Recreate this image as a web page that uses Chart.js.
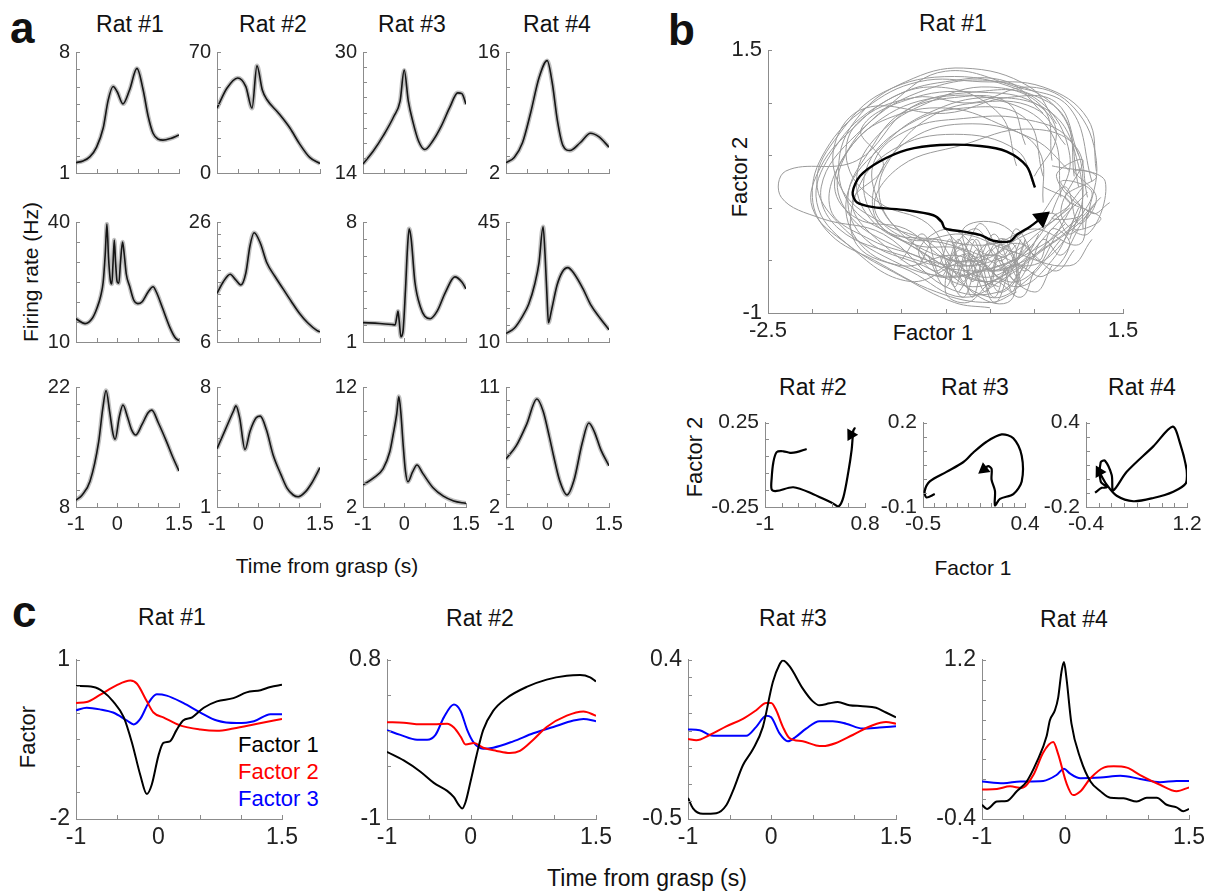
<!DOCTYPE html>
<html>
<head>
<meta charset="utf-8">
<script src="https://cdn.jsdelivr.net/npm/chart.js@4.4.1/dist/chart.umd.min.js"></script>
<style>
body { margin: 0; background: #fff; }
#fig { position: relative; width: 1222px; height: 892px; overflow: hidden; font-family: "Liberation Sans", Arial, sans-serif; color: #111; }
#fig canvas { position: absolute; }
.t { position: absolute; white-space: nowrap; line-height: 1; transform: translate(-50%, -50%); }
.v { position: absolute; white-space: nowrap; line-height: 1; transform: translate(-50%, -50%) rotate(-90deg); }
.l { position: absolute; white-space: nowrap; line-height: 1; transform: translateY(-50%); font-size: 22px; }
.p { position: absolute; font-weight: bold; font-size: 44px; line-height: 1; }
</style>
</head>
<body>
<div id="fig">
  <div class="p" style="left:10px;top:6px">a</div>
  <div class="p" style="left:668px;top:8px">b</div>
  <div class="p" style="left:12px;top:590px">c</div>

  <div class="t" style="left:130px;top:24px;font-size:23px">Rat #1</div>
  <div class="t" style="left:273px;top:24px;font-size:23px">Rat #2</div>
  <div class="t" style="left:412px;top:24px;font-size:23px">Rat #3</div>
  <div class="t" style="left:557px;top:24px;font-size:23px">Rat #4</div>
  <div class="v" style="left:30px;top:272px;font-size:21px">Firing rate (Hz)</div>
  <div class="t" style="left:327px;top:565px;font-size:21px">Time from grasp (s)</div>

  <div class="t" style="left:953px;top:23px;font-size:23px">Rat #1</div>
  <div class="v" style="left:740px;top:177px;font-size:22px">Factor 2</div>
  <div class="t" style="left:933px;top:333px;font-size:22px">Factor 1</div>
  <div class="t" style="left:813px;top:387px;font-size:23px">Rat #2</div>
  <div class="t" style="left:975px;top:387px;font-size:23px">Rat #3</div>
  <div class="t" style="left:1142px;top:387px;font-size:23px">Rat #4</div>
  <div class="v" style="left:695px;top:457px;font-size:22px">Factor 2</div>
  <div class="t" style="left:973px;top:567px;font-size:21px">Factor 1</div>

  <div class="t" style="left:172px;top:617px;font-size:23px">Rat #1</div>
  <div class="t" style="left:480px;top:618px;font-size:23px">Rat #2</div>
  <div class="t" style="left:793px;top:618px;font-size:23px">Rat #3</div>
  <div class="t" style="left:1074px;top:619px;font-size:23px">Rat #4</div>
  <div class="v" style="left:28px;top:737px;font-size:22px">Factor</div>
  <div class="t" style="left:647px;top:878px;font-size:23px">Time from grasp (s)</div>
  <div class="l" style="left:238px;top:745px;color:#000">Factor 1</div>
  <div class="l" style="left:238px;top:772px;color:#ff0000">Factor 2</div>
  <div class="l" style="left:238px;top:799px;color:#0000ff">Factor 3</div>
</div>

<script>
const FONT = '"Liberation Sans", Arial, sans-serif'

// ---------- panel a: firing rate (Hz) vs time from grasp (s), [t, rate]
const rateR1Rat1 = [[-1,1.6],[-0.83,1.7],[-0.66,1.95],[-0.5,2.5],[-0.34,3.6],[-0.22,5.2],[-0.1,6.0],[0,5.7],[0.14,5.0],[0.3,5.8],[0.48,7.05],[0.63,5.8],[0.75,4.3],[0.87,3.3],[1.0,2.95],[1.11,2.9],[1.3,3.0],[1.5,3.2]]
const rateR1Rat2 = [[-1,37.5],[-0.76,49],[-0.5,55],[-0.3,50],[-0.15,37.5],[-0.03,62],[0.1,48],[0.21,42.5],[0.48,35],[0.77,26],[1.0,17],[1.25,9],[1.5,5.5]]
const rateR1Rat3 = [[-1,15.2],[-0.75,16.9],[-0.5,19],[-0.25,21.5],[-0.1,23.5],[0,27.6],[0.1,23.5],[0.21,20.8],[0.35,18.2],[0.5,17.1],[0.7,18.3],[0.9,20.2],[1.1,22.6],[1.3,24.6],[1.4,24.5],[1.5,23.1]]
const rateR1Rat4 = [[-1,3.2],[-0.8,3.8],[-0.6,5.5],[-0.4,9],[-0.2,13],[0,15],[0.12,12.5],[0.25,8],[0.38,5.2],[0.55,4.6],[0.8,5.5],[1.05,6.6],[1.25,6.2],[1.5,5.0]]

const rateR2Rat1 = [[-1,15.8],[-0.78,14.6],[-0.6,16],[-0.49,18.5],[-0.4,21.5],[-0.34,25],[-0.29,32],[-0.25,39.5],[-0.21,31],[-0.16,25],[-0.13,24.5],[-0.1,30],[-0.07,35.5],[-0.04,30],[0,25],[0.04,24.7],[0.08,30],[0.13,35],[0.17,32],[0.22,27],[0.3,24],[0.4,20.5],[0.5,19.6],[0.6,20],[0.75,22.5],[0.87,23.8],[0.95,22.5],[1.1,18.5],[1.28,13.6],[1.4,11.2],[1.5,10.3]]
const rateR2Rat2 = [[-1,14.1],[-0.85,16],[-0.68,17.3],[-0.55,16.4],[-0.42,15.5],[-0.3,17.5],[-0.2,22],[-0.1,24.2],[0.05,22.5],[0.21,19.2],[0.4,17],[0.6,14.9],[0.8,12.8],[1.0,10.8],[1.2,9.2],[1.43,7.9],[1.5,7.7]]
const rateR2Rat3 = [[-1,2.13],[-0.6,2.08],[-0.3,2.02],[-0.22,2.0],[-0.17,2.6],[-0.15,2.8],[-0.12,2.2],[-0.08,1.3],[-0.03,1.6],[0.03,4],[0.08,6.5],[0.12,7.6],[0.17,7],[0.26,4.5],[0.4,3.0],[0.5,2.5],[0.63,2.36],[0.8,2.8],[1.0,3.9],[1.23,4.8],[1.4,4.5],[1.5,4.1]]
const rateR2Rat4 = [[-1,12.5],[-0.8,14],[-0.6,17.5],[-0.45,21],[-0.3,27],[-0.2,33],[-0.1,43.6],[-0.05,35],[0,22],[0.03,15.6],[0.1,19],[0.24,26.6],[0.37,30.5],[0.5,31.7],[0.65,30],[0.87,25.5],[1.05,21],[1.28,17],[1.5,13.6]]

const rateR3Rat1 = [[-1,8.8],[-0.85,9.4],[-0.66,11],[-0.45,15.6],[-0.35,19.5],[-0.27,21.6],[-0.18,19],[-0.1,16.5],[-0.05,15.9],[0.05,18.5],[0.14,19.9],[0.25,18.5],[0.35,17],[0.45,16.4],[0.6,17.6],[0.75,19],[0.84,19.3],[1.0,17.8],[1.2,15.6],[1.35,13.8],[1.5,12.2]]
const rateR3Rat2 = [[-1,4.4],[-0.8,5.5],[-0.6,6.6],[-0.54,6.9],[-0.45,6.2],[-0.32,4.35],[-0.2,5.4],[-0.05,6.2],[0.05,6.3],[0.2,5.5],[0.36,4.05],[0.55,2.9],[0.7,2.1],[0.85,1.7],[0.97,1.6],[1.15,1.9],[1.3,2.4],[1.5,3.3]]
const rateR3Rat3 = [[-1,3.85],[-0.75,4.4],[-0.51,5.2],[-0.35,6.6],[-0.27,8],[-0.18,9.8],[-0.13,11.2],[-0.08,9.8],[-0.03,7.4],[0.03,5],[0.09,4.1],[0.2,4.9],[0.31,5.5],[0.45,4.8],[0.7,3.6],[0.95,2.9],[1.2,2.5],[1.5,2.3]]
const rateR3Rat4 = [[-1,5.6],[-0.75,6.6],[-0.5,8.2],[-0.25,10.1],[-0.1,9.2],[0.05,7.3],[0.15,5.9],[0.3,4.0],[0.48,2.9],[0.65,4.0],[0.85,6.8],[1.01,8.3],[1.15,7.6],[1.3,6.3],[1.5,5.1]]

const rateCurves = [
    [rateR1Rat1, rateR1Rat2, rateR1Rat3, rateR1Rat4],
    [rateR2Rat1, rateR2Rat2, rateR2Rat3, rateR2Rat4],
    [rateR3Rat1, rateR3Rat2, rateR3Rat3, rateR3Rat4]
]
// y axis [min, max, tick step]
const rateYAxes = [
    [[1, 8, 1], [0, 70, 10], [14, 30, 2], [2, 16, 2]],
    [[10, 40, 5], [6, 26, 2], [1, 8, 1], [10, 45, 5]],
    [[8, 22, 2], [1, 8, 1], [2, 12, 2], [2, 11, 1]]
]
const timeTickLabels = [-1, 0, 1.5]

// ---------- panel b: factor trajectories, [factor 1, factor 2]
const trajRat1 = [[0.508,0.194],[0.415,0.396],[0.19,0.536],[-0.11,0.589],[-0.562,0.598],[-0.937,0.552],[-1.238,0.443],[-1.463,0.303],[-1.546,0.147],[-1.5,0.054],[-1.313,0.007],[-0.937,-0.023],[-0.637,-0.07],[-0.543,-0.132],[-0.506,-0.195],[-0.3,-0.226],[-0.111,-0.257],[0.039,-0.313],[0.227,-0.319],[0.302,-0.257],[0.452,-0.179],[0.584,-0.095]]
// single-trial traces (grey)
const trialLoop1 = [[0.8,0.1],[0.7,0.7],[0.2,1.0],[-0.6,1.05],[-1.3,0.8],[-1.7,0.35],[-1.6,-0.05],[-1.1,-0.35],[-0.4,-0.55],[0.2,-0.45],[0.6,-0.2],[0.9,0.0]]
const trialLoop2 = [[1.0,0.2],[0.8,0.9],[0.1,1.2],[-0.8,1.1],[-1.5,0.7],[-1.9,0.2],[-1.7,-0.2],[-1.0,-0.45],[-0.2,-0.6],[0.4,-0.5],[0.85,-0.15]]
const trialLoop3 = [[0.6,0.3],[0.4,0.85],[-0.3,0.95],[-1.0,0.75],[-1.4,0.35],[-1.3,-0.1],[-0.8,-0.4],[-0.1,-0.7],[0.3,-0.55],[0.7,-0.2],[1.1,0.15]]
const trialLoop4 = [[1.15,0.25],[0.9,0.95],[0.3,1.15],[-0.5,1.3],[-1.1,1.0],[-1.6,0.55],[-1.8,0.0],[-1.35,-0.3],[-0.7,-0.5],[0.0,-0.85],[0.4,-0.7],[0.8,-0.3]]
const trialLoop5 = [[0.9,0.35],[0.5,0.65],[-0.2,0.8],[-0.9,0.65],[-1.3,0.2],[-1.2,-0.2],[-0.6,-0.3],[0.0,-0.35],[0.5,-0.2],[1.0,-0.35],[1.1,-0.05]]
const trialLoop6 = [[0.7,-0.05],[0.9,0.5],[0.5,1.05],[-0.2,1.1],[-0.9,0.95],[-1.5,0.45],[-2.3,0.35],[-2.35,0.1],[-1.9,-0.1],[-1.2,-0.25],[-0.5,-0.75],[0.1,-0.8],[0.4,-0.55]]
const trialLoop7 = [[0.5,0.2],[0.3,0.55],[-0.4,0.7],[-1.1,0.55],[-1.5,0.15],[-1.5,-0.35],[-0.9,-0.6],[-0.3,-0.85],[0.2,-0.65],[0.6,-0.4],[1.0,-0.15],[1.2,0.05]]
const trialLoop8 = [[1.05,-0.2],[1.0,0.4],[0.7,0.9],[0.0,1.05],[-0.7,0.9],[-1.2,0.6],[-1.6,0.15],[-1.5,-0.3],[-1.0,-0.55],[-0.4,-0.45],[0.1,-0.6],[0.5,-0.35]]
const trialLoop9 = [[0.3,0.4],[0.1,0.9],[-0.6,1.15],[-1.3,0.95],[-1.8,0.5],[-1.95,0.05],[-1.6,-0.35],[-0.9,-0.7],[-0.2,-0.5],[0.3,-0.75],[0.7,-0.5],[0.95,-0.1]]
const trialLoop10 = [[1.1,0.1],[0.95,0.6],[0.4,0.75],[-0.3,0.6],[-1.0,0.4],[-1.3,0.0],[-0.9,-0.3],[-0.3,-0.25],[0.2,-0.4],[0.9,-0.55],[1.15,-0.3]]
const trialLoop11 = [[0.95,0.3],[0.85,0.85],[0.4,1.1],[-0.4,1.25],[-1.2,1.1],[-1.7,0.7],[-1.95,0.25],[-1.7,-0.15],[-1.1,-0.5],[-0.5,-0.65],[0.1,-0.55],[0.6,-0.35],[1.0,-0.1]]
const trialLoop12 = [[0.7,0.45],[0.6,0.95],[0.0,1.15],[-0.7,1.0],[-1.25,0.7],[-1.5,0.3],[-1.35,-0.1],[-0.85,-0.35],[-0.3,-0.4],[0.2,-0.7],[0.5,-0.6],[0.75,-0.25],[0.95,0.05]]
const trialLoop13 = [[1.2,0.35],[1.1,0.85],[0.6,1.15],[-0.1,1.2],[-0.8,1.2],[-1.4,0.95],[-1.85,0.55],[-2.0,0.1],[-1.8,-0.25],[-1.3,-0.5],[-0.6,-0.8],[0.0,-0.9],[0.3,-0.8]]
const trialLoop14 = [[0.4,0.6],[0.2,1.0],[-0.4,1.05],[-1.0,0.9],[-1.35,0.55],[-1.6,0.1],[-1.4,-0.3],[-0.75,-0.55],[-0.2,-0.75],[0.25,-0.6],[0.5,-0.45],[0.9,-0.2],[1.25,0.1]]
const trialLoop15 = [[0.85,0.6],[0.5,0.95],[-0.15,1.0],[-0.7,0.85],[-1.1,0.5],[-1.25,0.15],[-1.05,-0.2],[-0.6,-0.45],[-0.1,-0.5],[0.3,-0.3],[0.75,-0.1],[1.05,0.2]]
const trialLoop16 = [[1.0,0.5],[0.75,1.0],[0.2,1.05],[-0.5,0.9],[-1.4,0.95],[-1.75,0.6],[-1.65,0.15],[-1.2,-0.15],[-0.65,-0.35],[-0.2,-0.8],[0.2,-0.9],[0.35,-0.6],[0.55,-0.25]]
const trialLoop17 = [[0.6,0.05],[0.55,0.55],[0.1,0.8],[-0.5,0.95],[-1.15,0.85],[-1.55,0.6],[-1.75,0.2],[-1.5,-0.1],[-0.95,-0.2],[-0.45,-0.5],[0.05,-0.45],[0.45,-0.55],[0.8,-0.35],[1.0,0.0]]
const trialLoop18 = [[1.1,-0.1],[1.2,0.45],[0.95,0.95],[0.45,1.15],[-0.2,1.0],[-0.85,1.05],[-1.5,0.8],[-1.6,0.4],[-1.25,0.05],[-0.7,-0.15],[-0.35,-0.55],[0.05,-0.65],[0.45,-0.35]]
const trialLoop19 = [[0.5,0.3],[0.75,0.7],[0.5,1.0],[-0.1,1.1],[-0.85,1.05],[-1.45,0.75],[-1.2,0.4],[-1.55,0.05],[-1.2,-0.35],[-0.6,-0.65],[-0.1,-0.6],[0.35,-0.45],[0.75,-0.05]]
const trialLoop20 = [[0.9,-0.3],[1.05,0.15],[0.9,0.65],[0.35,0.85],[-0.3,0.85],[-0.9,0.75],[-1.3,0.45],[-1.25,0.05],[-0.95,-0.25],[-0.45,-0.35],[0.0,-0.5],[0.5,-0.8],[0.7,-0.55]]
const trialLoop21 = [[0.75,0.8],[0.45,1.15],[-0.3,1.33],[-0.95,1.2],[-1.45,0.9],[-1.7,0.45],[-1.55,0.0],[-1.0,-0.3],[-0.4,-0.6],[0.1,-0.75]]
const trialLoop22 = [[0.6,0.9],[0.2,1.2],[-0.5,1.2],[-1.1,1.05],[-1.55,0.75],[-1.9,0.4],[-2.0,0.0],[-1.6,-0.35],[-1.0,-0.65],[-0.4,-0.9],[0.0,-0.95]]
const trialJitter1 = [[-0.9,-0.3],[-0.6,-0.55],[-0.45,-0.3],[-0.3,-0.7],[-0.15,-0.4],[0.0,-0.75],[0.1,-0.45],[0.25,-0.8],[0.3,-0.5],[0.0,-0.6],[-0.2,-0.3],[-0.4,-0.65],[-0.55,-0.45],[-0.2,-0.55],[0.15,-0.35],[0.4,-0.6],[0.6,-0.3],[0.8,-0.45],[1.0,-0.2]]
const trialJitter2 = [[-0.7,-0.45],[-0.5,-0.75],[-0.35,-0.5],[-0.2,-0.85],[-0.05,-0.55],[0.15,-0.7],[0.3,-0.4],[0.1,-0.3],[-0.15,-0.65],[-0.3,-0.35],[-0.6,-0.6],[-0.8,-0.4],[-0.45,-0.2],[0.0,-0.45],[0.35,-0.25],[0.7,-0.05],[0.9,-0.25],[1.15,0.0]]
const trialJitter3 = [[0.6,0.2],[0.9,0.05],[0.7,-0.1],[1.05,-0.05],[0.8,0.25],[1.15,0.15],[0.95,-0.2],[1.25,-0.1],[0.85,0.1],[1.2,0.3],[0.7,0.4]]
const trialJitter4 = [[-0.8,-0.55],[-0.6,-0.3],[-0.4,-0.75],[-0.25,-0.45],[-0.05,-0.8],[0.1,-0.5],[0.3,-0.7],[0.45,-0.4],[0.2,-0.35],[-0.1,-0.6],[-0.35,-0.4],[-0.5,-0.8],[-0.25,-0.9],[0.05,-0.7],[0.35,-0.85],[0.5,-0.6]]
const trialJitter5 = [[-1.0,-0.5],[-0.75,-0.25],[-0.55,-0.65],[-0.35,-0.3],[-0.2,-0.7],[0.0,-0.4],[0.2,-0.6],[0.4,-0.3],[0.25,-0.55],[0.05,-0.25],[-0.15,-0.5],[-0.3,-0.2],[0.1,-0.15],[0.5,-0.45],[0.75,-0.6],[0.95,-0.4]]
const trialJitter6 = [[0.55,-0.1],[0.85,0.2],[1.0,-0.15],[1.2,0.1],[0.95,0.35],[1.3,0.25],[1.1,-0.25],[0.8,-0.05],[1.05,0.45],[0.75,0.3],[1.15,-0.05],[1.35,0.05]]
const trialJitter7 = [[-0.6,-0.1],[-0.3,-0.35],[-0.1,-0.15],[0.15,-0.45],[0.3,-0.2],[0.55,-0.5],[0.7,-0.2],[0.9,-0.35],[0.6,-0.65],[0.3,-0.55],[0.0,-0.7],[-0.3,-0.6]]
const trialJitter8 = [[-0.45,-0.25],[-0.3,-0.55],[-0.15,-0.3],[0.0,-0.6],[0.15,-0.3],[0.3,-0.65],[0.1,-0.8],[-0.1,-0.5],[-0.3,-0.85],[-0.45,-0.55],[-0.2,-0.45],[0.05,-0.9],[0.25,-0.5],[0.35,-0.3]]
const trialJitter9 = [[-0.35,-0.8],[-0.15,-0.6],[0.05,-0.85],[0.2,-0.55],[0.35,-0.75],[0.2,-0.4],[-0.05,-0.35],[-0.25,-0.6],[-0.4,-0.4],[-0.15,-0.2],[0.1,-0.5],[0.3,-0.35]]
const trialTraces = [trialLoop1, trialLoop2, trialLoop3, trialLoop4, trialLoop5, trialLoop6, trialLoop7, trialLoop8, trialLoop9, trialLoop10,
    trialLoop11, trialLoop12, trialLoop13, trialLoop14, trialLoop15, trialLoop16, trialLoop17, trialLoop18, trialLoop19, trialLoop20,
    trialLoop21, trialLoop22,
    trialJitter1, trialJitter2, trialJitter3, trialJitter4, trialJitter5, trialJitter6, trialJitter7, trialJitter8, trialJitter9]

const trajRat2 = [[-0.25,0.094],[-0.43,0.075],[-0.55,0.071],[-0.67,0.08],[-0.79,0.075],[-0.85,0.014],[-0.88,-0.08],[-0.88,-0.146],[-0.79,-0.155],[-0.49,-0.133],[-0.13,-0.174],[0.23,-0.23],[0.325,-0.246],[0.41,-0.193],[0.5,-0.042],[0.56,0.09],[0.59,0.203],[0.614,0.216],[0.548,0.178]]
const trajRat3 = [[-0.396,-0.054],[-0.47,-0.066],[-0.485,-0.043],[-0.44,-0.009],[-0.293,0.025],[-0.146,0.059],[-0.058,0.093],[0.061,0.132],[0.194,0.158],[0.297,0.144],[0.371,0.082],[0.371,-0.009],[0.297,-0.054],[0.179,-0.071],[0.135,-0.094],[0.135,-0.043],[0.105,-0.003],[0.105,0.036],[0.075,0.045],[0.037,0.034]]
const trajRat4 = [[-0.257,-0.098],[-0.151,-0.064],[-0.072,-0.059],[-0.167,-0.018],[-0.167,0.118],[-0.099,0.129],[0.007,0.027],[0.032,-0.082],[0.245,0.05],[0.666,0.231],[0.973,0.371],[1.089,0.254],[1.195,0.061],[1.184,-0.03],[0.983,-0.091],[0.666,-0.136],[0.35,-0.159],[0.086,-0.12],[-0.072,-0.041],[-0.189,0.05]]

// ---------- panel c: factors vs time, [t, factor]
const fac1Rat1 = [[-1,0.506],[-0.79,0.488],[-0.67,0.398],[-0.55,0.217],[-0.42,-0.084],[-0.32,-0.566],[-0.22,-1.17],[-0.14,-1.53],[-0.08,-1.35],[0,-0.81],[0.06,-0.566],[0.14,-0.536],[0.22,-0.325],[0.3,-0.145],[0.41,-0.084],[0.55,0.096],[0.71,0.217],[0.91,0.277],[1.07,0.386],[1.24,0.428],[1.36,0.488],[1.5,0.53]]
const fac2Rat1 = [[-1,0.187],[-0.87,0.205],[-0.71,0.337],[-0.51,0.518],[-0.34,0.608],[-0.26,0.548],[-0.14,0.217],[-0.06,0.006],[0.06,-0.084],[0.26,-0.235],[0.51,-0.313],[0.71,-0.337],[0.91,-0.295],[1.2,-0.205],[1.5,-0.114]]
const fac3Rat1 = [[-1,0.048],[-0.87,0.096],[-0.71,0.066],[-0.55,0.006],[-0.38,-0.145],[-0.3,-0.217],[-0.22,-0.114],[-0.12,0.187],[-0.02,0.349],[0.1,0.325],[0.3,0.187],[0.51,0.006],[0.71,-0.145],[0.95,-0.193],[1.16,-0.157],[1.36,-0.024],[1.5,-0.024]]

const fac1Rat2 = [[-1,-0.241],[-0.8,-0.338],[-0.6,-0.465],[-0.44,-0.591],[-0.28,-0.682],[-0.2,-0.754],[-0.14,-0.844],[-0.1,-0.881],[-0.06,-0.808],[0,-0.573],[0.07,-0.284],[0.15,0.005],[0.27,0.222],[0.43,0.366],[0.67,0.493],[0.91,0.576],[1.15,0.619],[1.31,0.627],[1.43,0.601],[1.5,0.554]]
const fac2Rat2 = [[-1,0.095],[-0.8,0.088],[-0.6,0.07],[-0.44,0.07],[-0.28,0.077],[-0.2,0.034],[-0.12,-0.067],[-0.06,-0.158],[0.04,-0.14],[0.15,-0.194],[0.31,-0.23],[0.47,-0.255],[0.59,-0.23],[0.75,-0.104],[0.91,0.041],[1.15,0.168],[1.35,0.215],[1.5,0.168]]
const fac3Rat2 = [[-1,0.005],[-0.84,-0.049],[-0.64,-0.104],[-0.52,-0.104],[-0.42,-0.049],[-0.32,0.149],[-0.2,0.294],[-0.12,0.222],[-0.04,0.005],[0.04,-0.14],[0.15,-0.205],[0.27,-0.194],[0.51,-0.122],[0.75,-0.031],[0.99,0.041],[1.23,0.113],[1.35,0.131],[1.5,0.106]]

const fac1Rat3 = [[-1,-0.381],[-0.94,-0.44],[-0.82,-0.471],[-0.66,-0.467],[-0.54,-0.422],[-0.46,-0.341],[-0.34,-0.196],[-0.22,-0.106],[-0.1,0.021],[0.02,0.274],[0.1,0.373],[0.14,0.396],[0.22,0.364],[0.38,0.237],[0.5,0.165],[0.58,0.143],[0.7,0.154],[0.8,0.161],[0.94,0.143],[1.1,0.138],[1.26,0.129],[1.38,0.102],[1.5,0.075]]
const fac2Rat3 = [[-1,-0.048],[-0.9,-0.055],[-0.74,-0.025],[-0.54,0.024],[-0.34,0.066],[-0.18,0.115],[-0.06,0.156],[0,0.156],[0.06,0.115],[0.14,0.021],[0.22,-0.043],[0.38,-0.061],[0.54,-0.084],[0.62,-0.088],[0.78,-0.07],[0.98,-0.025],[1.22,0.03],[1.38,0.048],[1.5,0.039]]
const fac3Rat3 = [[-1,0.006],[-0.86,0.002],[-0.74,-0.025],[-0.62,-0.03],[-0.42,-0.03],[-0.3,-0.03],[-0.18,0.021],[-0.06,0.084],[0,0.075],[0.1,-0.016],[0.2,-0.061],[0.3,-0.034],[0.42,0.011],[0.58,0.053],[0.74,0.053],[0.9,0.039],[1.1,0.011],[1.3,0.017],[1.5,0.024]]

const fac1Rat4 = [[-1,-0.257],[-0.94,-0.299],[-0.82,-0.225],[-0.7,-0.218],[-0.58,-0.121],[-0.46,-0.023],[-0.34,0.171],[-0.22,0.431],[-0.18,0.593],[-0.12,0.691],[-0.08,0.82],[-0.04,1.08],[-0.01,1.177],[0.02,1.015],[0.08,0.561],[0.19,0.204],[0.31,-0.023],[0.43,-0.121],[0.55,-0.186],[0.71,-0.192],[0.87,-0.225],[0.99,-0.186],[1.11,-0.186],[1.23,-0.257],[1.35,-0.283],[1.43,-0.322],[1.5,-0.299]]
const fac2Rat4 = [[-1,-0.104],[-0.82,-0.098],[-0.66,-0.072],[-0.52,-0.088],[-0.38,0.042],[-0.26,0.269],[-0.14,0.373],[-0.08,0.252],[0.02,-0.04],[0.1,-0.16],[0.19,-0.121],[0.31,0.009],[0.47,0.116],[0.59,0.129],[0.75,0.116],[0.91,0.042],[1.15,-0.056],[1.35,-0.121],[1.5,-0.082]]
const fac3Rat4 = [[-1,-0.023],[-0.74,-0.04],[-0.54,-0.023],[-0.26,-0.017],[-0.1,0.042],[-0.01,0.106],[0.06,0.058],[0.19,0.009],[0.43,0.016],[0.67,0.035],[0.91,0.003],[1.15,-0.03],[1.35,-0.017],[1.5,-0.017]]

const factorCurves = [
    [fac1Rat1, fac2Rat1, fac3Rat1],
    [fac1Rat2, fac2Rat2, fac3Rat2],
    [fac1Rat3, fac2Rat3, fac3Rat3],
    [fac1Rat4, fac2Rat4, fac3Rat4]
]
const factorYAxes = [[-2, 1, 0.5], [-1, 0.8, 0.4], [-0.5, 0.4, 0.1], [-0.4, 1.2, 0.2]]
const factorColors = ['#000000', '#ff0000', '#0000ff']


// ---------- drawing
const YW = 66, PT = 14, PR = 26, XH = 42
const AXIS_GREY = '#8c8c8c'

const inwardTicks = {
    id: 'inwardTicks',
    afterDraw(chart) {
        const ctx = chart.ctx
        const area = chart.chartArea
        const sx = chart.scales.x, sy = chart.scales.y
        ctx.save()
        ctx.strokeStyle = AXIS_GREY
        ctx.lineWidth = 1
        sx.ticks.forEach(t => {
            const p = Math.round(sx.getPixelForValue(t.value)) + 0.5
            ctx.beginPath(); ctx.moveTo(p, area.bottom); ctx.lineTo(p, area.bottom - 4); ctx.stroke()
        })
        sy.ticks.forEach(t => {
            const p = Math.round(sy.getPixelForValue(t.value)) + 0.5
            ctx.beginPath(); ctx.moveTo(area.left, p); ctx.lineTo(area.left + 4, p); ctx.stroke()
        })
        ctx.restore()
    }
}

function toXY(arr) {
    return arr.map(([x, y]) => ({ x, y }))
}

function axis(min, max, step, labels, fontSize, dir) {
    return {
        type: 'linear', min, max,
        afterFit: sc => { if (dir === 'x') sc.height = XH; else sc.width = YW },
        ticks: {
            stepSize: step, autoSkip: false, maxRotation: 0,
            padding: dir === 'x' ? 5 : 6,
            color: '#222', font: { family: FONT, size: fontSize },
            callback: v => labels.some(l => Math.abs(l - v) < 1e-6) ? String(+v.toFixed(3)) : ''
        },
        grid: { drawOnChartArea: false, drawTicks: false },
        border: { color: AXIS_GREY, width: 1 }
    }
}

function addChart(type, ax, top, w, h, datasets, xAxis, yAxis) {
    const c = document.createElement('canvas')
    c.width = YW + w + PR
    c.height = PT + h + XH
    c.style.left = (ax - YW) + 'px'
    c.style.top = (top - PT) + 'px'
    document.getElementById('fig').appendChild(c)
    new Chart(c, {
        type: type,
        data: { datasets: datasets },
        options: {
            responsive: false, animation: false, devicePixelRatio: 1, events: [],
            layout: { padding: { top: PT, right: PR, left: 0, bottom: 0 } },
            plugins: { legend: { display: false }, tooltip: { enabled: false } },
            scales: { x: xAxis, y: yAxis }
        },
        plugins: [inwardTicks]
    })
}

// panel a
const colX = [76, 217, 363, 506]
const rowTop = [48, 218, 383]
const rowH = [125, 124, 124]
rateCurves.forEach((row, r) => {
    row.forEach((curve, k) => {
        const [ymin, ymax, ystep] = rateYAxes[r][k]
        const line = { data: toXY(curve), borderColor: '#151515', borderWidth: 1.6, pointRadius: 0, cubicInterpolationMode: 'monotone' }
        const band = { data: toXY(curve), borderColor: 'rgba(140,140,140,0.55)', borderWidth: 4.5, pointRadius: 0, cubicInterpolationMode: 'monotone' }
        addChart('line', colX[k], rowTop[r], 103, rowH[r], [line, band],
            axis(-1, 1.5, 0.5, r === 2 ? timeTickLabels : [], 20, 'x'),
            axis(ymin, ymax, ystep, [ymin, ymax], 20, 'y'))
    })
})

// panel b
function trajectory(arr, width, arrowSize, arrowAngle) {
    const last = arr.length - 1
    return {
        data: toXY(arr), showLine: true, borderColor: '#000', borderWidth: width, tension: 0.3,
        pointStyle: 'triangle', backgroundColor: '#000', pointBackgroundColor: '#000', pointBorderColor: '#000',
        pointRadius: ctx => ctx.dataIndex === last ? arrowSize : 0,
        rotation: arrowAngle
    }
}
const greyTraces = trialTraces.map(t => ({ data: toXY(t), showLine: true, borderColor: '#9a9a9a', borderWidth: 1, tension: 0.4, pointRadius: 0 }))
addChart('scatter', 768, 45, 355, 268, [trajectory(trajRat1, 2.4, 8, 52), ...greyTraces],
    axis(-2.5, 1.5, 0.5, [-2.5, 1.5], 22, 'x'),
    axis(-1, 1.5, 0.5, [-1, 1.5], 22, 'y'))
addChart('scatter', 765, 418, 100, 89, [trajectory(trajRat2, 2.2, 5, 209)],
    axis(-1, 0.8, 0.3, [-1, 0.8], 21, 'x'),
    axis(-0.25, 0.25, 0.1, [-0.25, 0.25], 21, 'y'))
addChart('scatter', 923, 418, 102, 89, [trajectory(trajRat3, 2.2, 5, 232)],
    axis(-0.5, 0.4, 0.1, [-0.5, 0.4], 21, 'x'),
    axis(-0.1, 0.2, 0.05, [-0.1, 0.2], 21, 'y'))
addChart('scatter', 1086, 418, 101, 89, [trajectory(trajRat4, 2.2, 5, 331)],
    axis(-0.4, 1.2, 0.2, [-0.4, 1.2], 21, 'x'),
    axis(-0.2, 0.4, 0.1, [-0.2, 0.4], 21, 'y'))

// panel c
const facX = [76, 387, 688, 982]
const facW = [206, 209, 208, 207]
factorCurves.forEach((set, k) => {
    const [ymin, ymax, ystep] = factorYAxes[k]
    const ds = set.map((curve, i) => ({ data: toXY(curve), borderColor: factorColors[i], borderWidth: 2, pointRadius: 0, cubicInterpolationMode: 'monotone' }))
    addChart('line', facX[k], 654, facW[k], 165, ds,
        axis(-1, 1.5, 0.5, timeTickLabels, 23, 'x'),
        axis(ymin, ymax, ystep, [ymin, ymax], 23, 'y'))
})
</script>
</body>
</html>
